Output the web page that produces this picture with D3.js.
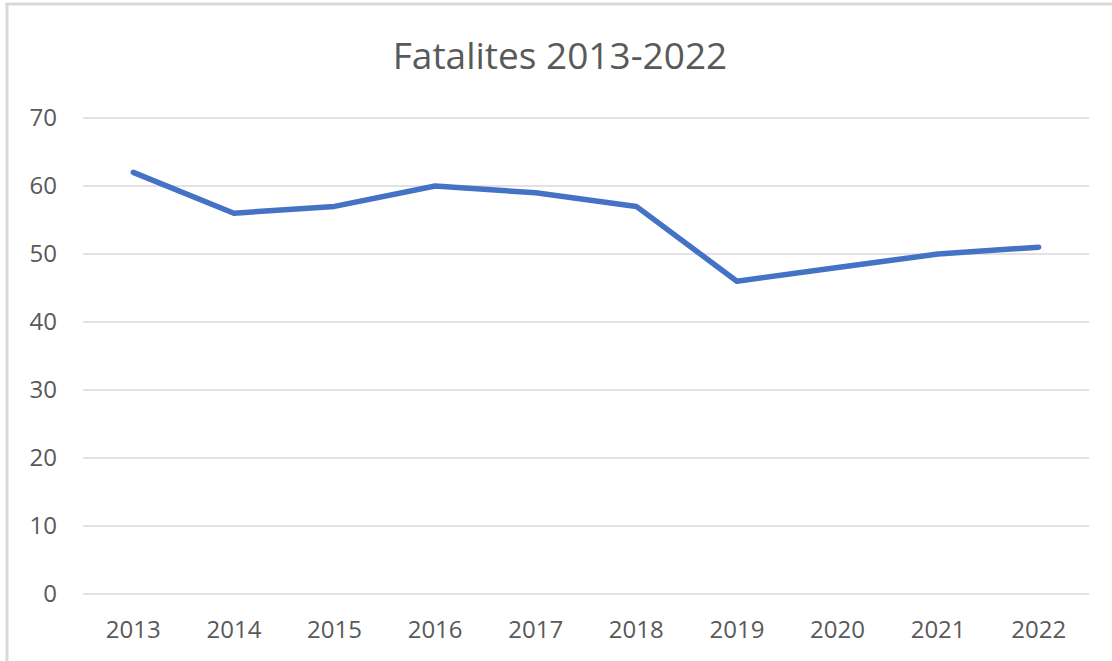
<!DOCTYPE html>
<html>
<head>
<meta charset="utf-8">
<script src="https://cdn.jsdelivr.net/npm/d3@7"></script>
<style>
  body { margin: 0; background: #fff; }
  svg { display: block; }
  .tick text { font-family: "Open Sans", "Liberation Sans", sans-serif; fill: #595959; }
</style>
</head>
<body>
<script>
(function(){

//chart data
var years = ["2013", "2014", "2015", "2016", "2017", "2018", "2019", "2020", "2021", "2022"];
var fatalities = [62, 56, 57, 60, 59, 57, 46, 48, 50, 51];
var yTicks = [0, 10, 20, 30, 40, 50, 60, 70];
var title = "Fatalites 2013-2022";

var width = 1112,
    height = 661;

var svg = d3.select("body")
    .append("svg")
    .attr("width", width)
    .attr("height", height);

//chart frame (only top and left edges are visible)
svg.append("line")
    .attr("x1", 5).attr("x2", width)
    .attr("y1", 4).attr("y2", 4)
    .attr("stroke", "#d9d9d9")
    .attr("stroke-width", 3);
svg.append("line")
    .attr("x1", 7).attr("x2", 7)
    .attr("y1", 3).attr("y2", height)
    .attr("stroke", "#d9d9d9")
    .attr("stroke-width", 3);

//plot area
var left = 83, right = 1089, top = 118, bottom = 594;

var x = d3.scaleBand()
    .domain(years)
    .range([left, right]);

var y = d3.scaleLinear()
    .domain([0, 70])
    .range([bottom, top]);

//gridlines
svg.selectAll(".grid")
    .data(yTicks)
    .enter()
    .append("line")
    .attr("class", "grid")
    .attr("x1", left)
    .attr("x2", right)
    .attr("y1", function(d){ return y(d); })
    .attr("y2", function(d){ return y(d); })
    .attr("stroke", "#d9d9d9")
    .attr("stroke-width", 1.5);

//y axis labels
var yAxis = svg.append("g")
    .attr("transform", "translate(" + (left - 26) + ",0)")
    .call(d3.axisLeft(y).tickValues(yTicks).tickSize(0).tickPadding(0));
yAxis.select(".domain").remove();
yAxis.selectAll("text").style("font-size", "24px");

//x axis labels
var xAxis = svg.append("g")
    .attr("transform", "translate(0," + (bottom + 27) + ")")
    .call(d3.axisBottom(x).tickSize(0).tickPadding(0));
xAxis.select(".domain").remove();
xAxis.selectAll("text").style("font-size", "24px");

//data line
var line = d3.line()
    .x(function(d, i){ return x(years[i]) + x.bandwidth() / 2; })
    .y(function(d){ return y(d); });

svg.append("path")
    .datum(fatalities)
    .attr("d", line)
    .attr("fill", "none")
    .attr("stroke", "#4472c4")
    .attr("stroke-width", 5.5)
    .attr("stroke-linecap", "round")
    .attr("stroke-linejoin", "round");

//title
svg.append("text")
    .attr("x", 560)
    .attr("y", 69)
    .attr("text-anchor", "middle")
    .style("font-family", "'Open Sans', 'Liberation Sans', sans-serif")
    .style("font-size", "37px")
    .style("fill", "#595959")
    .text(title);

})();
</script>
</body>
</html>
